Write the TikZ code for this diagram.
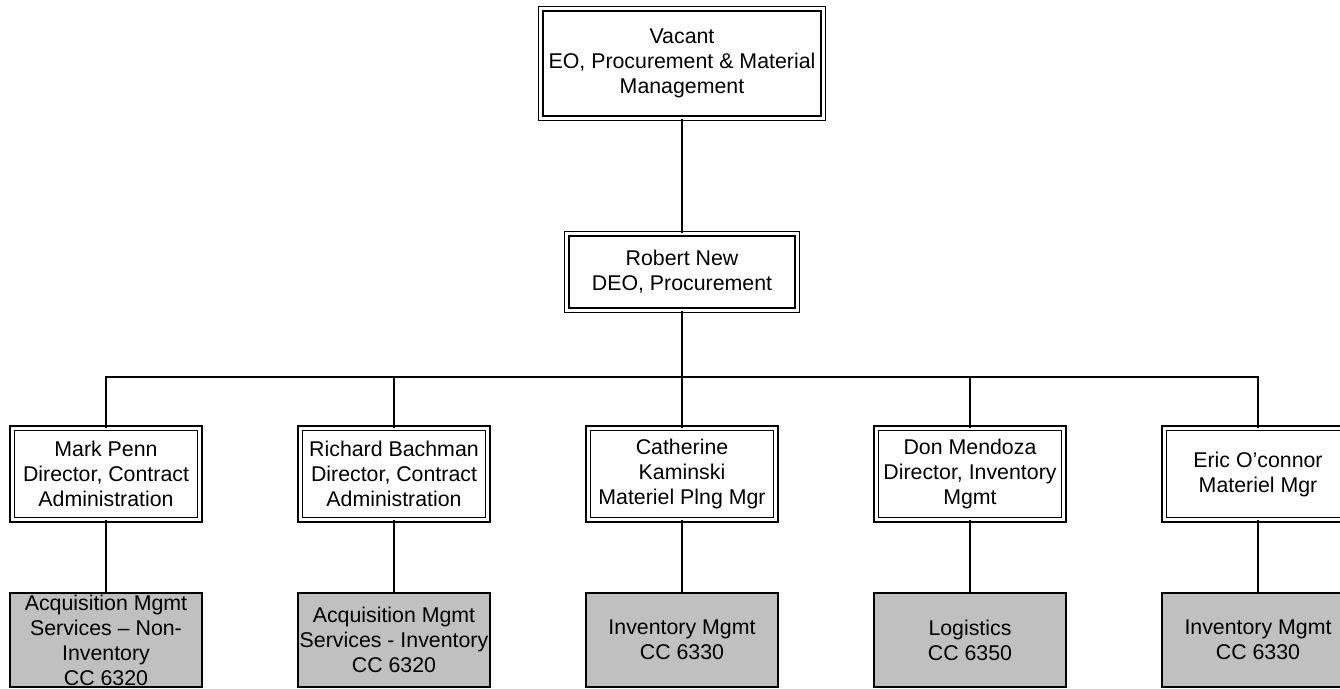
\documentclass[tikz,border=0pt]{standalone}
\usepackage{fontspec}
\setmainfont{Liberation Sans}
\usetikzlibrary{positioning}
\definecolor{unitgray}{RGB}{192,192,192}

\begin{document}
\begin{tikzpicture}[x=1pt, y=1pt, node distance=216pt, on grid, line width=1.1pt,
        box/.style={draw, double, double distance=2.2pt, fill=white, align=center,
            inner sep=0pt, font=\fontsize{16pt}{18.75pt}\selectfont},
        staff/.style={box, minimum width=140.4pt, minimum height=68.4pt},
        unit/.style={draw, fill=unitgray, line width=1.4pt, align=center, inner sep=0pt,
            minimum width=143.4pt, minimum height=70.6pt,
            font=\fontsize{16pt}{18.75pt}\selectfont}]
        \useasboundingbox (0,0) rectangle (1005,-516.75);
        \clip (0,0) rectangle (1005,-516.75);

        \node[box, minimum width=211.6pt, minimum height=81.9pt] (eo) at (511.5,-47.6)
            {Vacant\\EO, Procurement \& Material\\Management};
        \node[box, minimum width=172.6pt, minimum height=57.1pt] (deo) [below=156.4pt of eo]
            {Robert New\\DEO, Procurement};

        \node[staff] (ck) [below=151.5pt of deo] {Catherine\\Kaminski\\Materiel Plng Mgr};
        \node[staff] (rb) [left=of ck] {Richard Bachman\\Director, Contract\\Administration};
        \node[staff] (mp) [left=of rb] {Mark Penn\\Director, Contract\\Administration};
        \node[staff] (dm) [right=of ck] {Don Mendoza\\Director, Inventory\\Mgmt};
        \node[staff] (eoc) [right=of dm] {Eric O'connor\\Materiel Mgr};

        \node[unit] (amsn) [below=124.5pt of mp] {Acquisition Mgmt\\Services -- Non-\\Inventory\\CC 6320};
        \node[unit] (amsi) [below=124.5pt of rb] {Acquisition Mgmt\\Services - Inventory\\CC 6320};
        \node[unit] (imck) [below=124.5pt of ck] {Inventory Mgmt\\CC 6330};
        \node[unit] (log) [below=124.5pt of dm] {Logistics\\CC 6350};
        \node[unit] (imeo) [below=124.5pt of eoc] {Inventory Mgmt\\CC 6330};

        \coordinate[above=38pt of ck.north] (bus);

        \draw (mp.north) |- (bus) -| (eoc.north);
        \draw (rb.north) -- (rb.north |- bus);
        \draw (dm.north) -- (dm.north |- bus);

        \path[draw]
        (eo) edge (deo)
        (deo) edge (ck)
        (mp) edge (amsn)
        (rb) edge (amsi)
        (ck) edge (imck)
        (dm) edge (log)
        (eoc) edge (imeo);
    \end{tikzpicture}
\end{document}
